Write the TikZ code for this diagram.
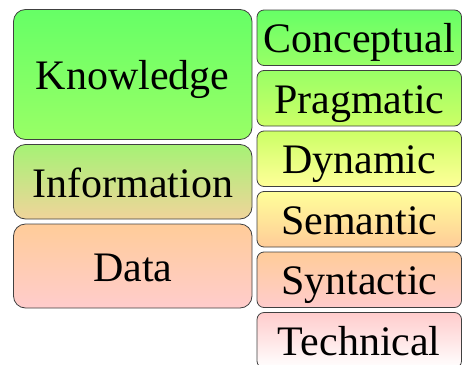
\documentclass[tikz,border=0pt]{standalone}
\usepackage{fontspec}
\setmainfont{Liberation Serif}
\definecolor{grnA}{HTML}{66FF66}
\definecolor{grnB}{HTML}{99FF66}
\definecolor{limeA}{HTML}{CCFF66}
\definecolor{yelA}{HTML}{FFFF99}
\definecolor{peachA}{HTML}{FFCC99}
\definecolor{pinkA}{HTML}{FFCCCC}
\definecolor{infoA}{HTML}{A6F275}
\definecolor{infoB}{HTML}{F0D49A}
\definecolor{edgeC}{HTML}{404040}
\tikzset{
  layer/.style={draw=edgeC, line width=0.8pt, inner sep=0pt,
    text height=30pt, text depth=0pt,
    font=\fontsize{42}{42}\selectfont},
  bigbox/.style={layer, rounded corners=12pt, minimum width=238.5pt},
  smallbox/.style={layer, rounded corners=7pt, minimum width=204.5pt, minimum height=55.5pt},
}
\begin{document}
\begin{tikzpicture}[x=1pt,y=1pt,yscale=-1]
\useasboundingbox (0,0) rectangle (462,364);

% Left column
\node[bigbox, minimum height=130pt, top color=grnA, bottom color=grnB] (know) at (132.75,74.5) {Knowledge};
\node[bigbox, minimum height=74.5pt, top color=infoA, bottom color=infoB, text height=32pt] (info) at (132.75,181.75) {Information};
\node[bigbox, minimum height=84pt, top color=peachA, bottom color=pinkA] (data) at (132.75,266) {Data};

% Right column
\node[smallbox, top color=grnA, bottom color=grnB] (concept) at (359.25,37.75) {Conceptual};
\node[smallbox, top color=grnB, bottom color=limeA] (prag) at (359.25,98.25) {Pragmatic};
\node[smallbox, top color=limeA, bottom color=yelA] (dyn) at (359.25,158.75) {Dynamic};
\node[smallbox, top color=yelA, bottom color=peachA] (sem) at (359.25,219.25) {Semantic};
\node[smallbox, top color=peachA, bottom color=pinkA] (syn) at (359.25,279.75) {Syntactic};
\node[smallbox, top color=pinkA, bottom color=white] (tech) at (359.25,340.25) {Technical};

\end{tikzpicture}
\end{document}
